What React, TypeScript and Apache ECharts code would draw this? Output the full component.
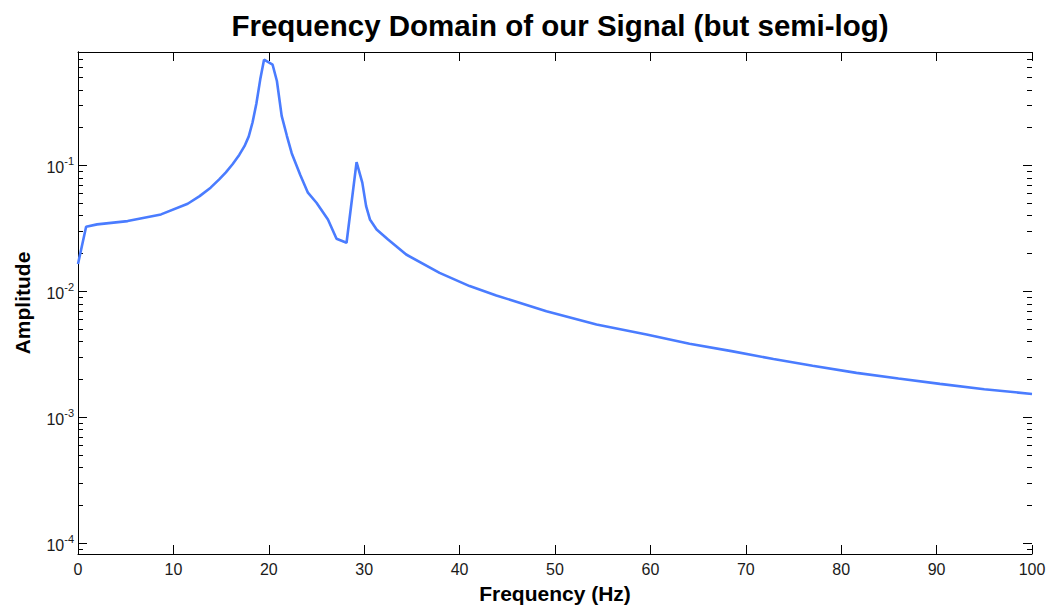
import React, { useEffect, useRef } from "react";
import * as echarts from "echarts";

// Spectrum samples: frequency (Hz) and FFT amplitude
const freqHz = [
  0, 0.85, 2, 5.2, 8.7, 11.5, 12.75, 13.9, 14.8, 15.5, 16.2, 16.9, 17.45, 17.9,
  18.3, 18.7, 19.1, 19.5, 20.4, 20.85, 21.35, 21.9, 22.4, 23.3, 24.1, 25.0,
  26.2, 27.1, 28.15, 29.2, 29.8, 30.2, 30.6, 31.3, 32.5, 34.4, 37.9, 41.05, 43.85,
  49.1, 54.35, 59.6, 64.1, 68.5, 72.9, 77.0, 81.6, 86.0, 90.35, 95.0, 100,
];
const amplitude = [
  0.0165, 0.0325, 0.034, 0.0361, 0.0408, 0.0496, 0.057, 0.0665, 0.0774, 0.088, 0.102,
  0.121, 0.142, 0.17, 0.22, 0.31, 0.48, 0.69, 0.63, 0.468, 0.247, 0.171, 0.125,
  0.084, 0.0607, 0.0505, 0.0372, 0.0261, 0.0243, 0.106, 0.0729, 0.0475, 0.0372, 0.031,
  0.0258, 0.0196, 0.014, 0.011, 0.00927, 0.00695, 0.00545, 0.00454, 0.00383, 0.00335,
  0.0029, 0.00256, 0.00225, 0.00203, 0.00184, 0.00167, 0.00153,
];

const X_MIN = 0;
const X_MAX = 100;
const X_STEP = 10;
const Y_MIN = 8.2e-5;
const Y_MAX = 0.795;

const FONT = "'Liberation Sans', Arial, Helvetica, sans-serif";
const TEXT = "#1a1a1a";

export default function App() {
  const ref = useRef<HTMLDivElement>(null);

  useEffect(() => {
    document.body.style.margin = "0";
    const chart = echarts.init(ref.current!, null, { renderer: "svg" });

    const axisLine = { show: true, lineStyle: { color: "#000", width: 1 } };

    chart.setOption({
      animation: false,
      backgroundColor: "#fff",
      title: {
        text: "Frequency Domain of our Signal (but semi-log)",
        left: 555,
        top: 5,
        textAlign: "center",
        textStyle: { fontFamily: FONT, fontWeight: "bold", fontSize: 29.5, color: "#000" },
      },
      grid: { left: 78, right: 18, top: 52, bottom: 57, containLabel: false },
      xAxis: [
        {
          type: "value",
          min: X_MIN,
          max: X_MAX,
          interval: X_STEP,
          position: "bottom",
          name: "Frequency (Hz)",
          nameLocation: "middle",
          nameGap: 29,
          nameTextStyle: { fontFamily: FONT, fontWeight: "bold", fontSize: 21, color: "#000" },
          axisLine,
          axisTick: { show: true, inside: true, length: 9, lineStyle: { color: "#000" } },
          axisLabel: { margin: 7, fontFamily: FONT, fontSize: 16, color: TEXT },
          splitLine: { show: false },
        },
        {
          type: "value",
          min: X_MIN,
          max: X_MAX,
          interval: X_STEP,
          position: "top",
          axisLine,
          axisTick: { show: true, inside: true, length: 9, lineStyle: { color: "#000" } },
          axisLabel: { show: false },
          splitLine: { show: false },
        },
      ],
      yAxis: [
        {
          type: "log",
          logBase: 10,
          min: Y_MIN,
          max: Y_MAX,
          position: "left",
          name: "Amplitude",
          nameLocation: "middle",
          nameGap: 45,
          nameTextStyle: { fontFamily: FONT, fontWeight: "bold", fontSize: 21, color: "#000" },
          axisLine,
          axisTick: { show: false },
          axisLabel: {
            margin: 4,
            showMinLabel: false,
            showMaxLabel: false,
            formatter: (v: number) => `{b|10}{s|${Math.round(Math.log10(v))}}`,
            rich: {
              b: { fontFamily: FONT, fontSize: 16, color: TEXT, verticalAlign: "bottom", lineHeight: 20 },
              s: { fontFamily: FONT, fontSize: 11, color: TEXT, verticalAlign: "top" },
            },
          },
          splitLine: { show: false },
        },
        {
          type: "log",
          logBase: 10,
          min: Y_MIN,
          max: Y_MAX,
          position: "right",
          axisLine,
          axisTick: { show: false },
          axisLabel: { show: false },
          splitLine: { show: false },
        },
      ],
      series: [
        {
          type: "line",
          xAxisIndex: 0,
          yAxisIndex: 0,
          data: freqHz.map((f, i) => [f, amplitude[i]]),
          showSymbol: false,
          lineStyle: { color: "#4a7cff", width: 2.6 },
          itemStyle: { color: "#4a7cff" },
        },
      ],
    });

    // Log-axis ticks (1..9 per decade) on both vertical edges, placed through the axis scale
    const xl = chart.convertToPixel({ xAxisIndex: 0 }, X_MIN) as number;
    const xr = chart.convertToPixel({ xAxisIndex: 0 }, X_MAX) as number;
    const ticks: any[] = [];
    for (let e = -5; e <= 0; e++) {
      for (let m = 1; m <= 9; m++) {
        const v = m * Math.pow(10, e);
        if (v < Y_MIN || v > Y_MAX) continue;
        const y = Math.round(chart.convertToPixel({ yAxisIndex: 0 }, v) as number) + 0.5;
        const len = m === 1 ? 9 : 5;
        const style = { stroke: "#000", lineWidth: 1 };
        ticks.push({ type: "line", shape: { x1: xl, y1: y, x2: xl + len, y2: y }, style, silent: true });
        ticks.push({ type: "line", shape: { x1: xr, y1: y, x2: xr - len, y2: y }, style, silent: true });
      }
    }
    chart.setOption({ graphic: ticks });

    return () => chart.dispose();
  }, []);

  return (
    <div
      ref={ref}
      style={{ position: "fixed", left: 0, top: 0, width: 1050, height: 611, background: "#fff" }}
    />
  );
}
